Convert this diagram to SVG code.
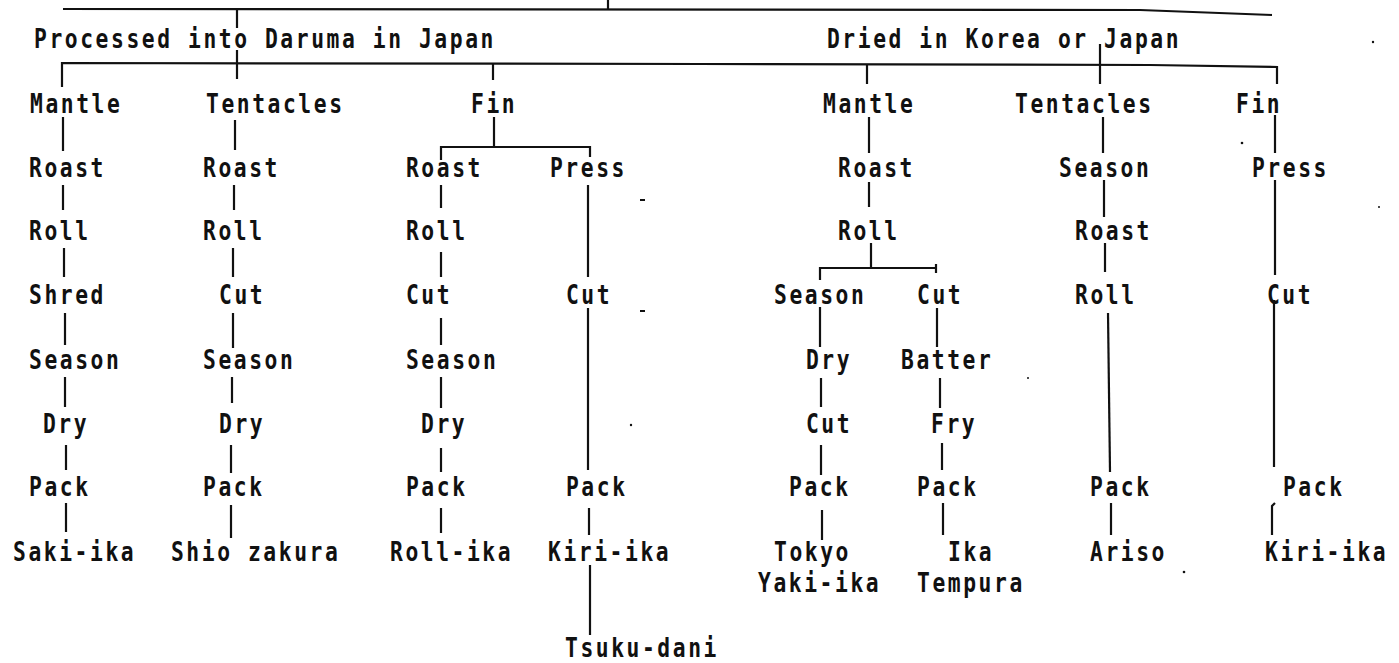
<svg xmlns="http://www.w3.org/2000/svg" width="1399" height="663" viewBox="0 0 1399 663">
<style>
  text { font-family: "DejaVu Sans Mono", "Liberation Mono", monospace; font-size: 26px; font-weight: bold; letter-spacing: 3.13px; fill: #111; transform: scale(0.82, 1); }
  .c line, .c polyline { stroke: #111; stroke-width: 2.2; fill: none; stroke-linecap: butt; }
  .sp { fill: #111; }
</style>
<rect width="1399" height="663" fill="#fff"/>
<g class="c" id="connectors">
  <polyline points="63,9 1140,10 1272,15"/>
  <line x1="608" y1="0" x2="608" y2="10"/>
  <line x1="237" y1="9" x2="237" y2="28"/>
  <line x1="237" y1="50" x2="237" y2="79"/>
  <polyline points="62,87 62,63 700,64 1150,65 1277,67 1277,84"/>
  <line x1="493" y1="64" x2="493" y2="80"/>
  <line x1="867" y1="65" x2="867" y2="84"/>
  <line x1="1100" y1="44" x2="1100" y2="84"/>
  <line x1="63" y1="117" x2="63" y2="151"/>
  <line x1="63" y1="185" x2="63" y2="210"/>
  <line x1="64" y1="248" x2="64" y2="277"/>
  <line x1="65" y1="313" x2="65" y2="345"/>
  <line x1="65" y1="377" x2="65" y2="407"/>
  <line x1="66" y1="445" x2="66" y2="470"/>
  <line x1="66" y1="503" x2="66" y2="532"/>
  <line x1="235" y1="120" x2="235" y2="150"/>
  <line x1="234" y1="185" x2="234" y2="210"/>
  <line x1="233" y1="248" x2="233" y2="277"/>
  <line x1="233" y1="313" x2="233" y2="348"/>
  <line x1="232" y1="377" x2="232" y2="403"/>
  <line x1="231" y1="445" x2="231" y2="473"/>
  <line x1="231" y1="505" x2="231" y2="538"/>
  <line x1="494" y1="117" x2="494" y2="147"/>
  <polyline points="441,160 441,147 590,147 590,157"/>
  <line x1="441" y1="185" x2="441" y2="208"/>
  <line x1="441" y1="252" x2="441" y2="277"/>
  <line x1="441" y1="318" x2="441" y2="345"/>
  <line x1="441" y1="377" x2="441" y2="408"/>
  <line x1="441" y1="448" x2="441" y2="472"/>
  <line x1="441" y1="508" x2="441" y2="533"/>
  <line x1="588" y1="185" x2="588" y2="277"/>
  <line x1="588" y1="308" x2="588" y2="470"/>
  <line x1="589" y1="508" x2="589" y2="535"/>
  <line x1="590" y1="565" x2="590" y2="635"/>
  <line x1="869" y1="117" x2="869" y2="153"/>
  <line x1="869" y1="182" x2="869" y2="207"/>
  <line x1="871" y1="243" x2="871" y2="268"/>
  <polyline points="820,280 820,268 936,268"/>
  <line x1="936" y1="264" x2="936" y2="273"/>
  <line x1="820" y1="307" x2="820" y2="347"/>
  <line x1="821" y1="378" x2="821" y2="407"/>
  <line x1="821" y1="445" x2="821" y2="475"/>
  <line x1="822" y1="510" x2="822" y2="540"/>
  <line x1="937" y1="308" x2="937" y2="347"/>
  <line x1="940" y1="378" x2="940" y2="408"/>
  <line x1="942" y1="443" x2="942" y2="470"/>
  <line x1="943" y1="503" x2="943" y2="535"/>
  <line x1="1103" y1="117" x2="1103" y2="153"/>
  <line x1="1104" y1="180" x2="1104" y2="217"/>
  <line x1="1105" y1="243" x2="1105" y2="272"/>
  <line x1="1108" y1="313" x2="1110" y2="472"/>
  <line x1="1111" y1="503" x2="1111" y2="535"/>
  <line x1="1275" y1="115" x2="1275" y2="153"/>
  <line x1="1275" y1="180" x2="1275" y2="275"/>
  <line x1="1274" y1="300" x2="1274" y2="467"/>
  <polyline points="1275,503 1272,506 1272,535"/>
</g>
<g id="specks">
  <rect class="sp" x="640" y="199" width="5" height="2"/>
  <rect class="sp" x="640" y="310" width="5" height="2"/>
  <circle class="sp" cx="631" cy="425" r="1.2"/>
  <circle class="sp" cx="1242" cy="143" r="1.3"/>
  <circle class="sp" cx="1379" cy="207" r="1"/>
  <circle class="sp" cx="1028" cy="378" r="1"/>
  <circle class="sp" cx="1184" cy="572" r="1.3"/>
  <circle class="sp" cx="1373" cy="42" r="1.2"/>
</g>
<g id="n-daruma"><text x="41.5" y="48">Processed into Daruma in Japan</text></g>
<g id="n-dried"><text x="1008.5" y="48">Dried in Korea or Japan</text></g>
<g id="n-mantle1"><text x="36.6" y="113">Mantle</text></g>
<g id="n-tentacles1"><text x="251.2" y="113">Tentacles</text></g>
<g id="n-fin1"><text x="574.4" y="113">Fin</text></g>
<g id="n-mantle2"><text x="1003.7" y="113">Mantle</text></g>
<g id="n-tentacles2"><text x="1237.8" y="113">Tentacles</text></g>
<g id="n-fin2"><text x="1507.3" y="113">Fin</text></g>
<g id="n-roast1"><text x="35.4" y="177">Roast</text></g>
<g id="n-roast2"><text x="247.6" y="177">Roast</text></g>
<g id="n-roast3"><text x="495.1" y="177">Roast</text></g>
<g id="n-press1"><text x="670.7" y="177">Press</text></g>
<g id="n-roast4"><text x="1022" y="177">Roast</text></g>
<g id="n-season5"><text x="1291.5" y="177">Season</text></g>
<g id="n-press2"><text x="1526.8" y="177">Press</text></g>
<g id="n-roll1"><text x="35.4" y="240">Roll</text></g>
<g id="n-roll2"><text x="247.6" y="240">Roll</text></g>
<g id="n-roll3"><text x="495.1" y="240">Roll</text></g>
<g id="n-roll4"><text x="1022" y="240">Roll</text></g>
<g id="n-roast5"><text x="1311" y="240">Roast</text></g>
<g id="n-shred1"><text x="35.4" y="304">Shred</text></g>
<g id="n-cut2"><text x="267.1" y="304">Cut</text></g>
<g id="n-cut3"><text x="495.1" y="304">Cut</text></g>
<g id="n-cut3b"><text x="690.2" y="304">Cut</text></g>
<g id="n-season4"><text x="943.9" y="304">Season</text></g>
<g id="n-cut4"><text x="1118.3" y="304">Cut</text></g>
<g id="n-roll5"><text x="1311" y="304">Roll</text></g>
<g id="n-cut6"><text x="1545.1" y="304">Cut</text></g>
<g id="n-season1"><text x="35.4" y="369">Season</text></g>
<g id="n-season2"><text x="247.6" y="369">Season</text></g>
<g id="n-season3"><text x="495.1" y="369">Season</text></g>
<g id="n-dry4"><text x="982.9" y="369">Dry</text></g>
<g id="n-batter"><text x="1098.8" y="369">Batter</text></g>
<g id="n-dry1"><text x="52.4" y="433">Dry</text></g>
<g id="n-dry2"><text x="267.1" y="433">Dry</text></g>
<g id="n-dry3"><text x="513.4" y="433">Dry</text></g>
<g id="n-cut4b"><text x="982.9" y="433">Cut</text></g>
<g id="n-fry"><text x="1135.4" y="433">Fry</text></g>
<g id="n-pack1"><text x="35.4" y="496">Pack</text></g>
<g id="n-pack2"><text x="247.6" y="496">Pack</text></g>
<g id="n-pack3"><text x="495.1" y="496">Pack</text></g>
<g id="n-pack3b"><text x="690.2" y="496">Pack</text></g>
<g id="n-pack4"><text x="962.2" y="496">Pack</text></g>
<g id="n-pack4b"><text x="1118.3" y="496">Pack</text></g>
<g id="n-pack5"><text x="1329.3" y="496">Pack</text></g>
<g id="n-pack6"><text x="1564.6" y="496">Pack</text></g>
<g id="n-sakiika"><text x="15.9" y="561">Saki-ika</text></g>
<g id="n-shiozakura"><text x="208.5" y="561">Shio zakura</text></g>
<g id="n-rollika"><text x="475.6" y="561">Roll-ika</text></g>
<g id="n-kiriika1"><text x="668.3" y="561">Kiri-ika</text></g>
<g id="n-tokyo"><text x="943.9" y="561">Tokyo</text><text x="924.4" y="592">Yaki-ika</text></g>
<g id="n-ikatempura"><text x="1156.1" y="561">Ika</text><text x="1118.3" y="592">Tempura</text></g>
<g id="n-ariso"><text x="1329.3" y="561">Ariso</text></g>
<g id="n-kiriika2"><text x="1542.7" y="561">Kiri-ika</text></g>
<g id="n-tsukudani"><text x="689" y="657">Tsuku-dani</text></g>
</svg>
